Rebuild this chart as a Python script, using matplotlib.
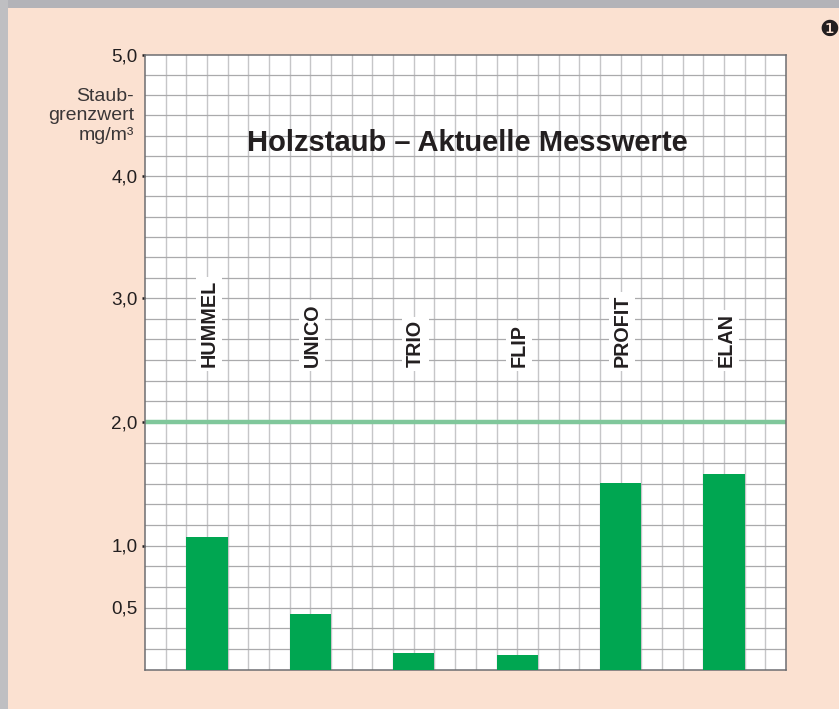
import numpy as np
import matplotlib
matplotlib.use("Agg")
import matplotlib.pyplot as plt
from matplotlib.patches import Rectangle

# values
names = ["HUMMEL", "UNICO", "TRIO", "FLIP", "PROFIT", "ELAN"]
werte = [1.07, 0.45, 0.13, 0.12, 1.51, 1.58]
grenzwert = 2.0
major_ticks = [1.0, 2.0, 3.0, 4.0, 5.0]
major_labels = ["1,0", "2,0", "3,0", "4,0", "5,0"]
minor_ticks = [0.5]
minor_labels = ["0,5"]

# the printed scale is slightly uneven, pixel rows of each whole unit
scale_vals = [0, 1, 2, 3, 4, 5]
scale_rows = [0, 124, 247.5, 371.5, 493.5, 615]

W, H = 839, 709
plt.rcParams["font.family"] = ["Liberation Sans", "DejaVu Sans"]
fig = plt.figure(figsize=(W / 100, H / 100), dpi=100, facecolor="#fbe1d1")

# grey edge of the page, top and left
fig.patches.append(Rectangle((0, 1 - 8 / H), 1, 8 / H, transform=fig.transFigure, color="#b3b3b8", lw=0))
fig.patches.append(Rectangle((0, 0), 8 / W, 1, transform=fig.transFigure, color="#bfbfc2", lw=0))

ax = fig.add_axes([145 / W, 1 - 669.5 / H, 641 / W, 615 / H])
ax.set_yscale("function", functions=(lambda v: np.interp(v, scale_vals, scale_rows),
                                     lambda r: np.interp(r, scale_rows, scale_vals)))
x = np.arange(len(names))
ax.set_xlim(-0.6, 5.6)
ax.set_ylim(0, 5)

# grid
for i in range(1, 31):
    ax.axvline(-0.6 + i * 0.2, color="#c6c6c8", lw=1.0, zorder=1)
for i in range(1, 30):
    ax.axhline(i / 6, color="#aaaaac", lw=0.9, zorder=1)

ax.bar(x, werte, width=0.4, color="#00a651", zorder=3)
ax.axhline(grenzwert, color="#80c79b", lw=3.2, zorder=2)

for i, n in enumerate(names):
    ax.annotate(n, (i, 2.44), xytext=(1.2, 0), textcoords="offset points", rotation=90,
                ha="center", va="bottom", fontsize=14.2, fontweight="bold", color="#231f20", zorder=4,
                bbox=dict(facecolor="white", edgecolor="none", pad=2.5))

ax.set_xticks([])
ax.set_yticks(major_ticks)
ax.set_yticklabels(major_labels, fontsize=13.6, color="#231f20")
ax.set_yticks(minor_ticks, minor=True)
ax.set_yticklabels(minor_labels, minor=True, fontsize=13.6, color="#231f20")
ax.tick_params(axis="y", which="major", length=2.5, width=1.8, color="#231f20", pad=3)
ax.tick_params(axis="y", which="minor", length=0, pad=5.5)
for s in ax.spines.values():
    s.set_color("#6d6e71")
    s.set_linewidth(1.1)

# texts placed in pixels of the page
fig.text(134 / W, 1 - 116 / H, "Staub-\ngrenzwert\nmg/m³", ha="right", va="center", fontsize=14,
         color="#3a3637", linespacing=1.2)
fig.text(467 / W, 1 - 143 / H, "Holzstaub – Aktuelle Messwerte", ha="center", va="center", fontsize=21,
         fontweight="bold", color="#231f20")
fig.text(829 / W, 1 - 30 / H, "❶", ha="center", va="center", fontsize=16, family="DejaVu Sans", color="#231f20")

fig.savefig("out.png", dpi=100)
